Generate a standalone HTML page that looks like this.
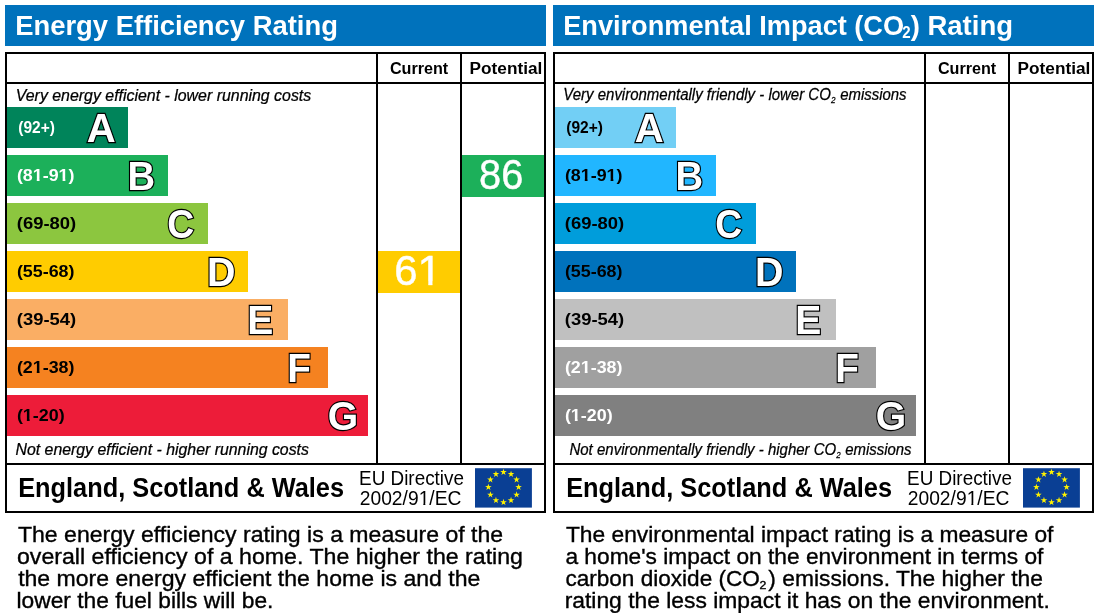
<!DOCTYPE html>
<html lang="en">
<head>
<meta charset="utf-8">
<title>Energy Performance Certificate Ratings</title>
<style>
html,body{margin:0;padding:0;background:#fff;}
body{width:1098px;height:613px;overflow:hidden;}
svg{display:block;}
text{font-family:'Liberation Sans', sans-serif;}
.b{font-weight:bold;}
.i{font-style:italic;stroke:#000;stroke-width:0.25px;}
.d{stroke:#000;stroke-width:0.35px;}
.n{stroke:#fff;stroke-width:0.4px;}
.lt{font-weight:bold;fill:#fff;stroke:#000;stroke-width:2.4px;paint-order:stroke fill;stroke-linejoin:miter;stroke-miterlimit:3;}
</style>
</head>
<body>
<svg width="1098" height="613" viewBox="0 0 1098 613" role="img" aria-label="Energy Efficiency Rating and Environmental Impact Rating charts">
<rect x="0" y="0" width="1098" height="613" fill="#fff"/>
<defs><clipPath id="c1"><polygon points="-0.796,-11.938 7.041,-11.938 7.041,-2.213 6.191,-2.213 6.191,1.000 3.654,1.000 3.654,-2.213 -0.796,-2.213"/></clipPath><clipPath id="c2"><polygon points="-2.002,-30.029 14.934,-30.029 14.934,-3.613 14.084,-3.613 14.084,1.000 10.160,1.000 10.160,-3.613 -2.002,-3.613"/></clipPath><clipPath id="c3"><polygon points="-0.977,-14.648 7.797,-14.648 7.797,-2.044 6.947,-2.044 6.947,1.000 4.879,1.000 4.879,-2.044 -0.977,-2.044"/></clipPath></defs>
<g transform="translate(0,0)">
<rect x="5" y="5" width="541" height="41" fill="#0072bc"/>
<text class="b" font-size="27" fill="#fff" transform="translate(15.22,34.70) scale(1.0149,1.0)">Energy Efficiency Rating</text>
<rect x="6" y="53" width="539" height="459" fill="#fff" stroke="#000" stroke-width="2"/>
<rect x="5" y="82" width="541" height="2" fill="#000"/>
<rect x="5" y="463" width="541" height="2" fill="#000"/>
<rect x="376" y="53" width="2" height="411" fill="#000"/>
<rect x="460" y="53" width="2" height="411" fill="#000"/>
<text class="b" font-size="16.6" fill="#000" transform="translate(389.97,73.80) scale(0.9729,1.0)">Current</text>
<text class="b" font-size="16.6" fill="#000" transform="translate(469.56,73.80) scale(1.0391,1.0)">Potential</text>
<text class="i" font-size="15.6" fill="#000" transform="translate(15.73,101.00) scale(1.0196,1.0)">Very energy efficient - lower running costs</text>
<text class="i" font-size="15.6" fill="#000" transform="translate(15.49,454.60) scale(1.0174,1.0)">Not energy efficient - higher running costs</text>
<rect x="7" y="107" width="121" height="41" fill="#00845a"/>
<text class="b" font-size="16" fill="#fff" transform="translate(18.27,132.80) scale(0.9710,1.0)">(92+)</text>
<text class="lt" font-size="40.7" fill="#fff" transform="translate(86.84,142.00) scale(0.9854,1.0)">A</text>
<rect x="7" y="155" width="161" height="41" fill="#1cb05a"/>
<g class="b" font-size="16.3" fill="#fff" transform="translate(16.88,181.00) scale(1.0961,1)"><text x="0.000">(8</text><g transform="translate(14.493,0)"><text clip-path="url(#c1)">1</text></g><text x="23.559">-9</text><g transform="translate(38.052,0)"><text clip-path="url(#c1)">1</text></g><text x="47.117">)</text></g>
<text class="lt" font-size="40.7" fill="#fff" transform="translate(127.49,190.00) scale(0.9394,1.0)">B</text>
<rect x="7" y="203" width="201" height="41" fill="#8cc63f"/>
<g class="b" font-size="16.3" fill="#000" transform="translate(16.85,229.00) scale(1.1314,1)"><text x="0.000">(69-80)</text></g>
<text class="lt" font-size="40.7" fill="#fff" transform="translate(167.34,238.00) scale(0.9197,1.0)">C</text>
<rect x="7" y="251" width="241" height="41" fill="#ffcc00"/>
<g class="b" font-size="16.3" fill="#000" transform="translate(16.88,277.00) scale(1.0961,1)"><text x="0.000">(55-68)</text></g>
<text class="lt" font-size="40.7" fill="#fff" transform="translate(207.05,286.00) scale(0.9688,1.0)">D</text>
<rect x="7" y="299" width="281" height="41" fill="#faae64"/>
<g class="b" font-size="16.3" fill="#000" transform="translate(16.85,325.00) scale(1.1314,1)"><text x="0.000">(39-54)</text></g>
<text class="lt" font-size="40.7" fill="#fff" transform="translate(247.36,334.00) scale(0.9604,1.0)">E</text>
<rect x="7" y="347" width="321" height="41" fill="#f58220"/>
<g class="b" font-size="16.3" fill="#000" transform="translate(16.88,373.00) scale(1.0961,1)"><text x="0.000">(2</text><g transform="translate(14.493,0)"><text clip-path="url(#c1)">1</text></g><text x="23.559">-38)</text></g>
<text class="lt" font-size="40.7" fill="#fff" transform="translate(287.37,382.00) scale(0.9522,1.0)">F</text>
<rect x="7" y="395" width="361" height="41" fill="#ed1c39"/>
<g class="b" font-size="16.3" fill="#000" transform="translate(16.88,421.00) scale(1.0994,1)"><text x="0.000">(</text><g transform="translate(5.428,0)"><text clip-path="url(#c1)">1</text></g><text x="14.493">-20)</text></g>
<text class="lt" font-size="40.7" fill="#fff" transform="translate(327.82,430.00) scale(0.9613,1.0)">G</text>
<rect x="378" y="251" width="82" height="42" fill="#ffcc00"/>
<text class="n" font-size="41" fill="#fff" transform="translate(394.20,284.70) scale(1.0216,1.04)">6</text>
<g class="n" font-size="41" fill="#fff" transform="translate(417.53,284.70) scale(1.06,1.04)"><text clip-path="url(#c2)">1</text></g>
<rect x="462" y="155" width="82" height="42" fill="#1cb05a"/>
<text class="n" font-size="41" fill="#fff" transform="translate(479.06,188.70) scale(0.9711,1.04)">86</text>
<text class="b" font-size="27.6" fill="#000" transform="translate(18.19,497.10) scale(0.9186,1.0)">England, Scotland &amp; Wales</text>
<text font-size="20" fill="#000" transform="translate(359.05,485.20) scale(0.9447,1.0)">EU Directive</text>
<g font-size="20" fill="#000" transform="translate(359.74,505.10) scale(0.9629,1)"><text x="0.000">2002/9</text><g transform="translate(61.172,0)"><text clip-path="url(#c3)">1</text></g><text x="72.295">/EC</text></g>
<rect x="475" y="468.2" width="56.9" height="39.4" fill="#0a3f94"/>
<polygon points="503.50,468.65 504.29,471.01 506.78,471.03 504.78,472.52 505.53,474.89 503.50,473.45 501.47,474.89 502.22,472.52 500.22,471.03 502.71,471.01" fill="#fff200"/>
<polygon points="511.05,470.67 511.84,473.03 514.33,473.06 512.33,474.54 513.08,476.91 511.05,475.47 509.02,476.91 509.77,474.54 507.77,473.06 510.26,473.03" fill="#fff200"/>
<polygon points="516.58,476.20 517.37,478.56 519.86,478.58 517.86,480.07 518.60,482.44 516.58,481.00 514.55,482.44 515.29,480.07 513.30,478.58 515.78,478.56" fill="#fff200"/>
<polygon points="518.60,483.75 519.39,486.11 521.88,486.13 519.88,487.62 520.63,489.99 518.60,488.55 516.57,489.99 517.32,487.62 515.32,486.13 517.81,486.11" fill="#fff200"/>
<polygon points="516.58,491.30 517.37,493.66 519.86,493.68 517.86,495.17 518.60,497.54 516.58,496.10 514.55,497.54 515.29,495.17 513.30,493.68 515.78,493.66" fill="#fff200"/>
<polygon points="511.05,496.83 511.84,499.18 514.33,499.21 512.33,500.69 513.08,503.07 511.05,501.63 509.02,503.07 509.77,500.69 507.77,499.21 510.26,499.18" fill="#fff200"/>
<polygon points="503.50,498.85 504.29,501.21 506.78,501.23 504.78,502.72 505.53,505.09 503.50,503.65 501.47,505.09 502.22,502.72 500.22,501.23 502.71,501.21" fill="#fff200"/>
<polygon points="495.95,496.83 496.74,499.18 499.23,499.21 497.23,500.69 497.98,503.07 495.95,501.63 493.92,503.07 494.67,500.69 492.67,499.21 495.16,499.18" fill="#fff200"/>
<polygon points="490.42,491.30 491.22,493.66 493.70,493.68 491.71,495.17 492.45,497.54 490.42,496.10 488.40,497.54 489.14,495.17 487.14,493.68 489.63,493.66" fill="#fff200"/>
<polygon points="488.40,483.75 489.19,486.11 491.68,486.13 489.68,487.62 490.43,489.99 488.40,488.55 486.37,489.99 487.12,487.62 485.12,486.13 487.61,486.11" fill="#fff200"/>
<polygon points="490.42,476.20 491.22,478.56 493.70,478.58 491.71,480.07 492.45,482.44 490.42,481.00 488.40,482.44 489.14,480.07 487.14,478.58 489.63,478.56" fill="#fff200"/>
<polygon points="495.95,470.67 496.74,473.03 499.23,473.06 497.23,474.54 497.98,476.91 495.95,475.47 493.92,476.91 494.67,474.54 492.67,473.06 495.16,473.03" fill="#fff200"/>
<text class="d" font-size="21.2" fill="#000" transform="translate(17.93,541.60) scale(1.0879,1.0)">The energy efficiency rating is a measure of the</text>
<text class="d" font-size="21.2" fill="#000" transform="translate(16.98,563.60) scale(1.0922,1.0)">overall efficiency of a home. The higher the rating</text>
<text class="d" font-size="21.2" fill="#000" transform="translate(18.13,585.70) scale(1.0881,1.0)">the more energy efficient the home is and the</text>
<text class="d" font-size="21.2" fill="#000" transform="translate(16.46,607.80) scale(1.0742,1.0)">lower the fuel bills will be.</text>
</g>
<g transform="translate(548,0)">
<rect x="5" y="5" width="541" height="41" fill="#0072bc"/>
<text class="b" font-size="27" fill="#fff" transform="translate(15.24,34.70) scale(1.0058,1.0)">Environmental Impact (CO</text>
<text class="b" font-size="15.8" fill="#fff" transform="translate(354.22,38.40) scale(0.9548,1.0)">2</text>
<text class="b" font-size="27" fill="#fff" transform="translate(362.65,34.70) scale(1.0193,1.0)">) Rating</text>
<rect x="6" y="53" width="539" height="459" fill="#fff" stroke="#000" stroke-width="2"/>
<rect x="5" y="82" width="541" height="2" fill="#000"/>
<rect x="5" y="463" width="541" height="2" fill="#000"/>
<rect x="376" y="53" width="2" height="411" fill="#000"/>
<rect x="460" y="53" width="2" height="411" fill="#000"/>
<text class="b" font-size="16.6" fill="#000" transform="translate(389.97,73.80) scale(0.9729,1.0)">Current</text>
<text class="b" font-size="16.6" fill="#000" transform="translate(469.56,73.80) scale(1.0391,1.0)">Potential</text>
<text class="i" font-size="15.8" fill="#000" transform="translate(15.31,99.90) scale(0.9487,1.0)">Very environmentally friendly - lower CO</text>
<text class="i" font-size="9.5" fill="#000" transform="translate(283.01,103.00) scale(0.8545,1.0)">2</text>
<text class="i" font-size="15.8" fill="#000" transform="translate(292.23,99.90) scale(0.9453,1.0)">emissions</text>
<text class="i" font-size="16.2" fill="#000" transform="translate(21.44,454.50) scale(0.9265,1.0)">Not environmentally friendly - higher CO</text>
<text class="i" font-size="9.5" fill="#000" transform="translate(288.31,457.60) scale(0.8364,1.0)">2</text>
<text class="i" font-size="16.2" fill="#000" transform="translate(297.24,454.50) scale(0.9207,1.0)">emissions</text>
<rect x="7" y="107" width="121" height="41" fill="#72cff5"/>
<text class="b" font-size="16" fill="#000" transform="translate(18.27,132.80) scale(0.9710,1.0)">(92+)</text>
<text class="lt" font-size="40.7" fill="#fff" transform="translate(86.84,142.00) scale(0.9854,1.0)">A</text>
<rect x="7" y="155" width="161" height="41" fill="#21b6ff"/>
<g class="b" font-size="16.3" fill="#000" transform="translate(16.88,181.00) scale(1.0961,1)"><text x="0.000">(8</text><g transform="translate(14.493,0)"><text clip-path="url(#c1)">1</text></g><text x="23.559">-9</text><g transform="translate(38.052,0)"><text clip-path="url(#c1)">1</text></g><text x="47.117">)</text></g>
<text class="lt" font-size="40.7" fill="#fff" transform="translate(127.49,190.00) scale(0.9394,1.0)">B</text>
<rect x="7" y="203" width="201" height="41" fill="#009ddb"/>
<g class="b" font-size="16.3" fill="#000" transform="translate(16.85,229.00) scale(1.1314,1)"><text x="0.000">(69-80)</text></g>
<text class="lt" font-size="40.7" fill="#fff" transform="translate(167.34,238.00) scale(0.9197,1.0)">C</text>
<rect x="7" y="251" width="241" height="41" fill="#0072bc"/>
<g class="b" font-size="16.3" fill="#000" transform="translate(16.88,277.00) scale(1.0961,1)"><text x="0.000">(55-68)</text></g>
<text class="lt" font-size="40.7" fill="#fff" transform="translate(207.05,286.00) scale(0.9688,1.0)">D</text>
<rect x="7" y="299" width="281" height="41" fill="#c0c0c0"/>
<g class="b" font-size="16.3" fill="#000" transform="translate(16.85,325.00) scale(1.1314,1)"><text x="0.000">(39-54)</text></g>
<text class="lt" font-size="40.7" fill="#fff" transform="translate(247.36,334.00) scale(0.9604,1.0)">E</text>
<rect x="7" y="347" width="321" height="41" fill="#a0a0a0"/>
<g class="b" font-size="16.3" fill="#fff" transform="translate(16.88,373.00) scale(1.0961,1)"><text x="0.000">(2</text><g transform="translate(14.493,0)"><text clip-path="url(#c1)">1</text></g><text x="23.559">-38)</text></g>
<text class="lt" font-size="40.7" fill="#fff" transform="translate(287.37,382.00) scale(0.9522,1.0)">F</text>
<rect x="7" y="395" width="361" height="41" fill="#808080"/>
<g class="b" font-size="16.3" fill="#fff" transform="translate(16.88,421.00) scale(1.0994,1)"><text x="0.000">(</text><g transform="translate(5.428,0)"><text clip-path="url(#c1)">1</text></g><text x="14.493">-20)</text></g>
<text class="lt" font-size="40.7" fill="#fff" transform="translate(327.82,430.00) scale(0.9613,1.0)">G</text>
<text class="b" font-size="27.6" fill="#000" transform="translate(18.19,497.10) scale(0.9186,1.0)">England, Scotland &amp; Wales</text>
<text font-size="20" fill="#000" transform="translate(359.05,485.20) scale(0.9447,1.0)">EU Directive</text>
<g font-size="20" fill="#000" transform="translate(359.74,505.10) scale(0.9629,1)"><text x="0.000">2002/9</text><g transform="translate(61.172,0)"><text clip-path="url(#c3)">1</text></g><text x="72.295">/EC</text></g>
<rect x="475" y="468.2" width="56.9" height="39.4" fill="#0a3f94"/>
<polygon points="503.50,468.65 504.29,471.01 506.78,471.03 504.78,472.52 505.53,474.89 503.50,473.45 501.47,474.89 502.22,472.52 500.22,471.03 502.71,471.01" fill="#fff200"/>
<polygon points="511.05,470.67 511.84,473.03 514.33,473.06 512.33,474.54 513.08,476.91 511.05,475.47 509.02,476.91 509.77,474.54 507.77,473.06 510.26,473.03" fill="#fff200"/>
<polygon points="516.58,476.20 517.37,478.56 519.86,478.58 517.86,480.07 518.60,482.44 516.58,481.00 514.55,482.44 515.29,480.07 513.30,478.58 515.78,478.56" fill="#fff200"/>
<polygon points="518.60,483.75 519.39,486.11 521.88,486.13 519.88,487.62 520.63,489.99 518.60,488.55 516.57,489.99 517.32,487.62 515.32,486.13 517.81,486.11" fill="#fff200"/>
<polygon points="516.58,491.30 517.37,493.66 519.86,493.68 517.86,495.17 518.60,497.54 516.58,496.10 514.55,497.54 515.29,495.17 513.30,493.68 515.78,493.66" fill="#fff200"/>
<polygon points="511.05,496.83 511.84,499.18 514.33,499.21 512.33,500.69 513.08,503.07 511.05,501.63 509.02,503.07 509.77,500.69 507.77,499.21 510.26,499.18" fill="#fff200"/>
<polygon points="503.50,498.85 504.29,501.21 506.78,501.23 504.78,502.72 505.53,505.09 503.50,503.65 501.47,505.09 502.22,502.72 500.22,501.23 502.71,501.21" fill="#fff200"/>
<polygon points="495.95,496.83 496.74,499.18 499.23,499.21 497.23,500.69 497.98,503.07 495.95,501.63 493.92,503.07 494.67,500.69 492.67,499.21 495.16,499.18" fill="#fff200"/>
<polygon points="490.42,491.30 491.22,493.66 493.70,493.68 491.71,495.17 492.45,497.54 490.42,496.10 488.40,497.54 489.14,495.17 487.14,493.68 489.63,493.66" fill="#fff200"/>
<polygon points="488.40,483.75 489.19,486.11 491.68,486.13 489.68,487.62 490.43,489.99 488.40,488.55 486.37,489.99 487.12,487.62 485.12,486.13 487.61,486.11" fill="#fff200"/>
<polygon points="490.42,476.20 491.22,478.56 493.70,478.58 491.71,480.07 492.45,482.44 490.42,481.00 488.40,482.44 489.14,480.07 487.14,478.58 489.63,478.56" fill="#fff200"/>
<polygon points="495.95,470.67 496.74,473.03 499.23,473.06 497.23,474.54 497.98,476.91 495.95,475.47 493.92,476.91 494.67,474.54 492.67,473.06 495.16,473.03" fill="#fff200"/>
<text class="d" font-size="21.2" fill="#000" transform="translate(17.93,541.60) scale(1.0751,1.0)">The environmental impact rating is a measure of</text>
<text class="d" font-size="21.2" fill="#000" transform="translate(17.40,563.60) scale(1.0726,1.0)">a home's impact on the environment in terms of</text>
<text class="d" font-size="21.2" fill="#000" transform="translate(17.40,585.70) scale(1.0652,1.0)">carbon dioxide (CO</text>
<text class="d" font-size="10.4" fill="#000" transform="translate(211.60,588.60) scale(1.1810,1.0)">2</text>
<text class="d" font-size="21.2" fill="#000" transform="translate(220.30,585.70) scale(1.0762,1.0)">) emissions. The higher the</text>
<text class="d" font-size="21.2" fill="#000" transform="translate(16.65,607.80) scale(1.0785,1.0)">rating the less impact it has on the environment.</text>
</g>
</svg>
</body>
</html>
